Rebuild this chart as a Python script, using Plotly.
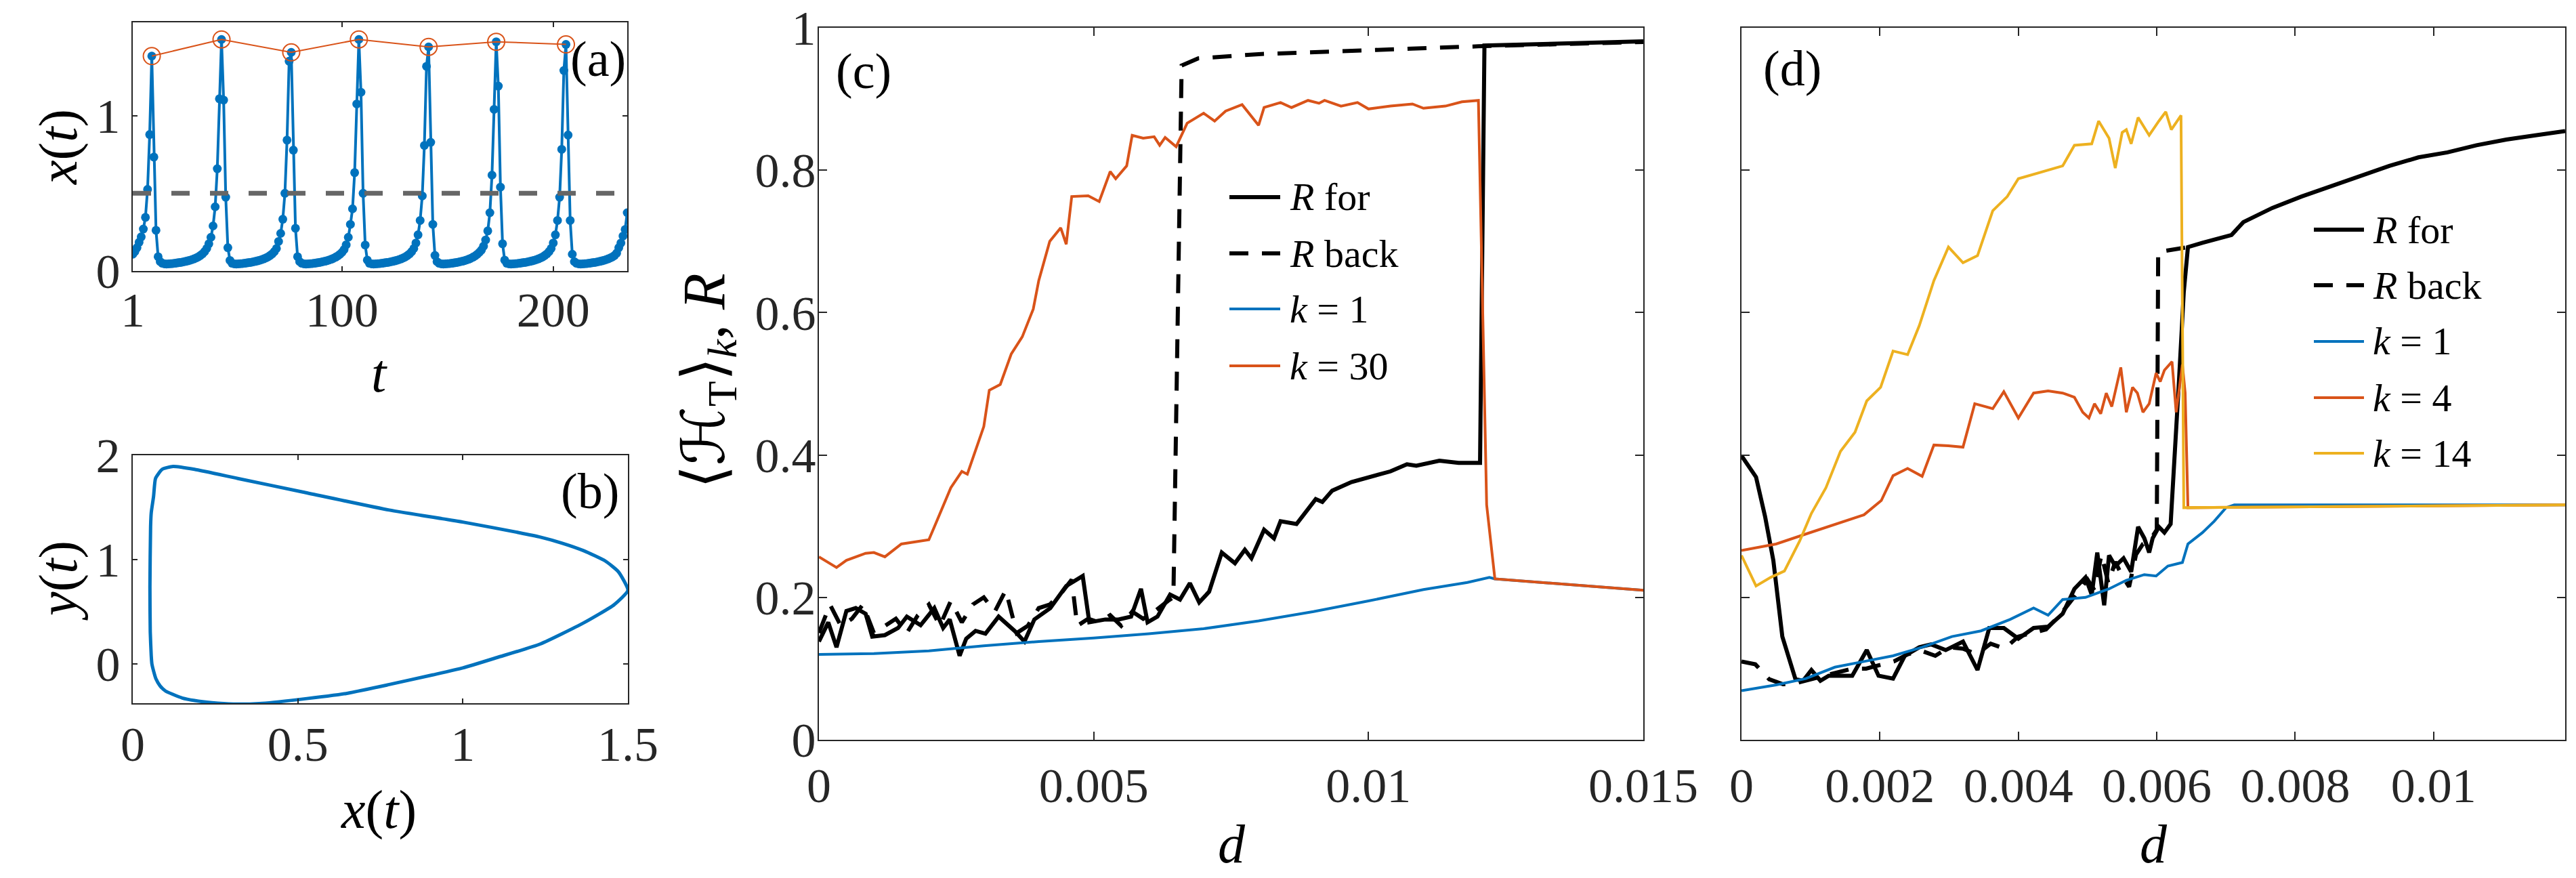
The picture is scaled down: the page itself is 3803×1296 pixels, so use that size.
import plotly.graph_objects as go

# ---------------- data ----------------
# (a) time series x(t), sampled at t = 1..235
x_series = [
    0.108, 0.125, 0.15, 0.185, 0.22, 0.27, 0.345, 0.525, 0.878,
    1.383,
    0.733, 0.262, 0.092, 0.06,
    0.05, 0.046, 0.045, 0.046, 0.047, 0.048, 0.05, 0.052, 0.054, 0.056, 0.059, 0.062,
    0.065, 0.069, 0.073, 0.078, 0.084, 0.091, 0.1, 0.11, 0.125, 0.145, 0.175,
    0.217, 0.29, 0.413, 0.658, 1.108,
    1.49,
    1.1, 0.475, 0.15, 0.068,
    0.05, 0.046, 0.045, 0.046, 0.047, 0.048, 0.05, 0.052, 0.054, 0.056, 0.059, 0.062,
    0.065, 0.069, 0.073, 0.078, 0.084, 0.091, 0.1, 0.11, 0.125, 0.145, 0.19,
    0.242, 0.333, 0.5, 0.842, 1.35,
    1.407,
    0.778, 0.275, 0.092, 0.06,
    0.05, 0.046, 0.045, 0.046, 0.047, 0.048, 0.05, 0.052, 0.054, 0.057, 0.06,
    0.063, 0.067, 0.071, 0.076, 0.082, 0.089, 0.097, 0.107, 0.12, 0.138, 0.168,
    0.217, 0.3, 0.4, 0.633, 1.075,
    1.49,
    1.15, 0.5, 0.167, 0.07,
    0.05, 0.046, 0.045, 0.046, 0.047, 0.048, 0.05, 0.052, 0.054, 0.056, 0.059, 0.062,
    0.065, 0.069, 0.073, 0.078, 0.084, 0.091, 0.1, 0.11, 0.125, 0.145, 0.18,
    0.233, 0.325, 0.483, 0.808, 1.317,
    1.442,
    0.828, 0.3, 0.1, 0.06,
    0.05, 0.046, 0.045, 0.046, 0.047, 0.048, 0.05, 0.052, 0.054, 0.057, 0.06,
    0.063, 0.067, 0.071, 0.076, 0.082, 0.089, 0.097, 0.107, 0.12, 0.135, 0.16,
    0.2, 0.258, 0.375, 0.617, 1.04,
    1.475,
    1.19, 0.54, 0.175, 0.07,
    0.05, 0.046, 0.045, 0.046, 0.047, 0.048, 0.05, 0.052, 0.054, 0.056, 0.059, 0.062,
    0.065, 0.069, 0.073, 0.078, 0.084, 0.091, 0.1, 0.11, 0.125, 0.145, 0.18,
    0.233, 0.325, 0.475, 0.783, 1.29,
    1.458,
    0.875, 0.325, 0.108, 0.06,
    0.05, 0.046, 0.045, 0.046, 0.047, 0.048, 0.05, 0.052, 0.054, 0.056, 0.059, 0.062,
    0.065, 0.069, 0.073, 0.078, 0.084, 0.091, 0.1, 0.115, 0.15, 0.18, 0.225, 0.267, 0.375,
]
t_series = list(range(1, len(x_series) + 1))
peak_t = [10, 43, 76, 108, 141, 173, 206]
peak_x = [1.383, 1.49, 1.407, 1.49, 1.442, 1.475, 1.458]
threshold_t = [1, 235]
threshold_x = [0.5, 0.5]

# (b) limit cycle in the (x, y) plane
cycle_x = [0.122, 0.187, 0.318, 0.515, 0.777, 1.0, 1.17, 1.235, 1.301, 1.366, 1.432, 1.471, 1.5,
           1.458, 1.366, 1.235, 1.104, 1.0, 0.908, 0.777, 0.646, 0.502, 0.384, 0.305, 0.24,
           0.187, 0.15, 0.122, 0.1, 0.083, 0.07, 0.063, 0.058, 0.056, 0.053, 0.052, 0.054,
           0.056, 0.063, 0.069, 0.089, 0.122]
cycle_y = [1.893, 1.865, 1.778, 1.648, 1.475, 1.36, 1.259, 1.216, 1.158, 1.086, 0.986, 0.885, 0.706,
           0.568, 0.395, 0.193, 0.063, -0.037, -0.104, -0.196, -0.282, -0.34, -0.378, -0.383, -0.37,
           -0.349, -0.325, -0.291, -0.26, -0.21, -0.14, -0.066, 0.0, 0.078, 0.308, 0.74, 1.317,
           1.45, 1.605, 1.778, 1.865, 1.893]

# (c) forward / backward order parameter and heterogeneity
c_rfor_d = [0, 0.00017, 0.00032, 0.0005, 0.00067, 0.00085, 0.00097, 0.0012, 0.00144, 0.0016,
            0.00185, 0.0021, 0.00226, 0.00238, 0.00256, 0.00268, 0.00285, 0.00303, 0.00327,
            0.00356, 0.00374, 0.00392, 0.00421, 0.0045, 0.0048, 0.00492, 0.00521, 0.00545,
            0.00568, 0.00586, 0.00598, 0.00616, 0.00639, 0.00657, 0.00675, 0.00692, 0.0071,
            0.00733, 0.00757, 0.00775, 0.00787, 0.0081, 0.00828, 0.0084, 0.00869, 0.00904,
            0.00916, 0.00934, 0.00969, 0.01005, 0.0104, 0.0107, 0.01087, 0.01129, 0.01164,
            0.01203, 0.01211, 0.015]
c_rfor_v = [0.138, 0.165, 0.13, 0.181, 0.185, 0.177, 0.145, 0.147, 0.157, 0.173,
            0.161, 0.185, 0.157, 0.169, 0.118, 0.142, 0.153, 0.149, 0.173,
            0.153, 0.138, 0.169, 0.185, 0.216, 0.23, 0.165, 0.169, 0.169,
            0.173, 0.212, 0.165, 0.173, 0.204, 0.197, 0.22, 0.193, 0.208,
            0.263, 0.248, 0.267, 0.255, 0.295, 0.283, 0.307, 0.303, 0.338,
            0.334, 0.35, 0.362, 0.37, 0.377, 0.387, 0.385, 0.392, 0.389,
            0.389, 0.975, 0.981]
c_rback_d = [0, 0.0002, 0.0004, 0.0006, 0.0008, 0.001, 0.0012, 0.0014, 0.0016, 0.0018, 0.002,
             0.0022, 0.0024, 0.0026, 0.0028, 0.003, 0.0032, 0.0034, 0.0036, 0.0038, 0.004,
             0.0042, 0.0044, 0.0046, 0.0047, 0.0049, 0.0051, 0.0053, 0.0055, 0.0057, 0.0059,
             0.0061, 0.00635, 0.00645, 0.0066, 0.0069, 0.008, 0.01, 0.012, 0.015]
c_rback_v = [0.15, 0.19, 0.16, 0.17, 0.19, 0.15, 0.16, 0.17, 0.15, 0.175, 0.19,
             0.16, 0.195, 0.165, 0.19, 0.2, 0.18, 0.21, 0.15, 0.16, 0.185,
             0.19, 0.205, 0.225, 0.16, 0.17, 0.165, 0.175, 0.16, 0.18, 0.17,
             0.18, 0.195, 0.2, 0.947, 0.957, 0.963, 0.969, 0.974, 0.98]
c_k1_d = [0, 0.001, 0.002, 0.003, 0.004, 0.005, 0.006, 0.007, 0.008, 0.009, 0.01, 0.011,
          0.0118, 0.0122, 0.0123, 0.015]
c_k1_v = [0.12, 0.121, 0.125, 0.132, 0.138, 0.143, 0.149, 0.156, 0.167, 0.18, 0.195, 0.211,
          0.221, 0.228, 0.226, 0.21]
c_k30_d = [0, 0.00032, 0.0005, 0.00085, 0.001, 0.0012, 0.0015, 0.002, 0.0021, 0.0024, 0.0026,
           0.0027, 0.003, 0.0031, 0.0033, 0.0035, 0.0037, 0.0039, 0.004, 0.0042, 0.0044,
           0.0045, 0.0046, 0.0049, 0.0051, 0.0053, 0.0054, 0.0056, 0.0057, 0.0059, 0.0061,
           0.0062, 0.0063, 0.0065, 0.0067, 0.007, 0.0072, 0.0074, 0.0077, 0.008, 0.0081,
           0.0084, 0.0086, 0.0089, 0.0091, 0.0092, 0.0095, 0.0098, 0.01, 0.0104, 0.0108,
           0.011, 0.0114, 0.0117, 0.012, 0.01215, 0.0123, 0.015]
c_k30_v = [0.257, 0.242, 0.252, 0.262, 0.263, 0.257, 0.275, 0.281, 0.299, 0.354, 0.377,
           0.373, 0.44, 0.491, 0.499, 0.542, 0.566, 0.605, 0.645, 0.70, 0.719,
           0.696, 0.763, 0.764, 0.756, 0.798, 0.788, 0.806, 0.849, 0.845, 0.847,
           0.835, 0.846, 0.833, 0.866, 0.88, 0.869, 0.883, 0.892, 0.863, 0.888,
           0.895, 0.888, 0.898, 0.894, 0.898, 0.89, 0.895, 0.886, 0.89, 0.893,
           0.887, 0.89, 0.896, 0.898, 0.33, 0.226, 0.21]

# (d)
d_rfor_d = [0, 0.00021, 0.00034, 0.00046, 0.00059, 0.00069, 0.00078, 0.00089, 0.00101, 0.00114,
            0.00126, 0.00143, 0.0016, 0.00181, 0.00198, 0.00219, 0.00236, 0.00257, 0.00274,
            0.00295, 0.0032, 0.00341, 0.00358, 0.00379, 0.004, 0.00422, 0.00443, 0.00464,
            0.00481, 0.00497, 0.00506, 0.00514, 0.00524, 0.00531, 0.0054, 0.00552, 0.00563,
            0.00573, 0.00582, 0.00589, 0.00594, 0.00603, 0.00611, 0.0062, 0.00626, 0.00632,
            0.00639, 0.00645, 0.00666, 0.00691, 0.00708, 0.00725, 0.00767, 0.00809, 0.00852,
            0.00894, 0.00936, 0.00978, 0.0102, 0.01062, 0.01105, 0.01147, 0.0119]
d_rfor_v = [0.399, 0.369, 0.314, 0.252, 0.145, 0.114, 0.085, 0.083, 0.098, 0.083,
            0.09, 0.09, 0.09, 0.126, 0.09, 0.086, 0.118, 0.13, 0.134,
            0.126, 0.138, 0.098, 0.157, 0.157, 0.142, 0.157, 0.159, 0.177,
            0.212, 0.228, 0.204, 0.263, 0.189, 0.259, 0.244, 0.255, 0.236,
            0.299, 0.283, 0.263, 0.283, 0.299, 0.291, 0.303, 0.393, 0.503,
            0.629, 0.692, 0.698, 0.704, 0.709, 0.727, 0.747, 0.763, 0.778,
            0.792, 0.806, 0.818, 0.825, 0.835, 0.843, 0.849, 0.855]
d_rback_d = [0, 0.0002, 0.0004, 0.0006, 0.0008, 0.001, 0.0012, 0.0014, 0.0016, 0.0018, 0.002,
             0.0022, 0.0024, 0.0026, 0.0028, 0.003, 0.0032, 0.0034, 0.0036, 0.0038, 0.004,
             0.0042, 0.0044, 0.0046, 0.0048, 0.005, 0.0051, 0.0052, 0.0053, 0.0054, 0.0055,
             0.0056, 0.0057, 0.0058, 0.0059, 0.006, 0.00602, 0.00645]
d_rback_v = [0.11, 0.106, 0.085, 0.078, 0.08, 0.085, 0.09, 0.095, 0.1, 0.1, 0.105,
             0.11, 0.12, 0.125, 0.118, 0.13, 0.128, 0.12, 0.135, 0.128, 0.145,
             0.15, 0.155, 0.175, 0.2, 0.225, 0.21, 0.26, 0.22, 0.25, 0.23,
             0.215, 0.26, 0.275, 0.28, 0.295, 0.685, 0.692]
d_k1_d = [0, 0.0005, 0.00093, 0.00135, 0.00177, 0.00219, 0.00261, 0.00304, 0.00346, 0.00388,
          0.00422, 0.00443, 0.00464, 0.00497, 0.00531, 0.00556, 0.00582, 0.00599, 0.00616,
          0.00637, 0.00645, 0.00666, 0.00683, 0.007, 0.00712, 0.0119]
d_k1_v = [0.069, 0.077, 0.086, 0.102, 0.11, 0.118, 0.13, 0.145, 0.153, 0.169,
          0.185, 0.175, 0.197, 0.2, 0.212, 0.224, 0.232, 0.23, 0.244,
          0.249, 0.275, 0.291, 0.307, 0.326, 0.33, 0.33]
d_k4_d = [0, 0.0005, 0.00093, 0.00135, 0.00177, 0.00202, 0.00219, 0.0024, 0.00261, 0.00278,
          0.00299, 0.0032, 0.00337, 0.00363, 0.00379, 0.004, 0.00422, 0.00443, 0.00464,
          0.00481, 0.00493, 0.00502, 0.0051, 0.00519, 0.00527, 0.00535, 0.00548, 0.00556,
          0.00565, 0.00572, 0.0058, 0.00589, 0.00599, 0.00605, 0.00611, 0.00622, 0.00628,
          0.00637, 0.00641, 0.00645, 0.0119]
d_k4_v = [0.266, 0.275, 0.289, 0.303, 0.316, 0.336, 0.371, 0.381, 0.37, 0.414,
          0.413, 0.411, 0.472, 0.465, 0.489, 0.452, 0.487, 0.49, 0.487,
          0.481, 0.46, 0.452, 0.472, 0.458, 0.487, 0.468, 0.523, 0.46,
          0.495, 0.487, 0.46, 0.472, 0.515, 0.503, 0.519, 0.531, 0.46,
          0.527, 0.487, 0.326, 0.33]
d_k14_d = [0, 0.00021, 0.00042, 0.00062, 0.00084, 0.00101, 0.00122, 0.00143, 0.00164, 0.00181,
           0.00201, 0.00219, 0.0024, 0.00257, 0.00278, 0.00299, 0.0032, 0.00341, 0.00363,
           0.00384, 0.004, 0.00422, 0.00443, 0.00464, 0.00481, 0.00506, 0.00516, 0.00531,
           0.0054, 0.0055, 0.00556, 0.00563, 0.00573, 0.00589, 0.00603, 0.00613, 0.00621,
           0.00635, 0.00639, 0.0119]
d_k14_v = [0.259, 0.216, 0.228, 0.237, 0.279, 0.318, 0.354, 0.405, 0.432, 0.476,
           0.495, 0.546, 0.541, 0.582, 0.645, 0.692, 0.67, 0.68, 0.743,
           0.763, 0.788, 0.794, 0.8, 0.806, 0.835, 0.837, 0.869, 0.845,
           0.803, 0.853, 0.857, 0.837, 0.874, 0.849, 0.869, 0.882, 0.857,
           0.877, 0.326, 0.33]

# tick labels
a_xticks = [1, 100, 200]
a_yticks = [0, 1]
b_xticks = [0, 0.5, 1, 1.5]
b_xticklabels = ["0", "0.5", "1", "1.5"]
b_yticks = [0, 1, 2]
c_xticks = [0, 0.005, 0.01, 0.015]
c_xticklabels = ["0", "0.005", "0.01", "0.015"]
cd_yticks = [0, 0.2, 0.4, 0.6, 0.8, 1]
cd_yticklabels = ["0", "0.2", "0.4", "0.6", "0.8", "1"]
d_xticks = [0, 0.002, 0.004, 0.006, 0.008, 0.01]
d_xticklabels = ["0", "0.002", "0.004", "0.006", "0.008", "0.01"]

# legend entries
c_legend_names = ["<i>R</i> for", "<i>R</i> back", "<i>k</i> = 1", "<i>k</i> = 30"]
d_legend_names = ["<i>R</i> for", "<i>R</i> back", "<i>k</i> = 1", "<i>k</i> = 4", "<i>k</i> = 14"]

# ---------------- style ----------------
W, H = 3803, 1296
BLUE, ORANGE, YELLOW = "#0072BD", "#D95319", "#EDB120"
AX = "#262626"
FONT = "Liberation Serif, Times New Roman, serif"
DASH = "28px,20px"


def fx(px):
    return px / W


def fy(py):
    return 1 - py / H


fig = go.Figure()

# (a)
fig.add_trace(go.Scatter(x=t_series, y=x_series, mode="lines+markers", xaxis="x", yaxis="y",
                         line=dict(color=BLUE, width=4), marker=dict(color=BLUE, size=13)))
fig.add_trace(go.Scatter(x=threshold_t, y=threshold_x, mode="lines", xaxis="x", yaxis="y",
                         line=dict(color="#666666", width=7, dash="27px,30px")))
fig.add_trace(go.Scatter(x=peak_t, y=peak_x, mode="lines+markers", xaxis="x", yaxis="y",
                         line=dict(color=ORANGE, width=2),
                         marker=dict(symbol="circle-open", size=25, color=ORANGE, line=dict(width=2))))
# (b)
fig.add_trace(go.Scatter(x=cycle_x, y=cycle_y, mode="lines", xaxis="x2", yaxis="y2",
                         line=dict(color=BLUE, width=5, shape="spline", smoothing=0.5)))

# (c)
c_styles = [dict(color="black", width=6), dict(color="black", width=6, dash=DASH),
            dict(color=BLUE, width=4), dict(color=ORANGE, width=4)]
c_data = [(c_rfor_d, c_rfor_v), (c_rback_d, c_rback_v), (c_k1_d, c_k1_v), (c_k30_d, c_k30_v)]
for (xs, ys), st, nm in zip(c_data, c_styles, c_legend_names):
    fig.add_trace(go.Scatter(x=xs, y=ys, mode="lines", xaxis="x3", yaxis="y3", name=nm, line=st))

# (d)
d_styles = [dict(color="black", width=6), dict(color="black", width=6, dash=DASH),
            dict(color=BLUE, width=4), dict(color=ORANGE, width=4), dict(color=YELLOW, width=4)]
d_data = [(d_rfor_d, d_rfor_v), (d_rback_d, d_rback_v), (d_k1_d, d_k1_v), (d_k4_d, d_k4_v),
          (d_k14_d, d_k14_v)]
for (xs, ys), st, nm in zip(d_data, d_styles, d_legend_names):
    fig.add_trace(go.Scatter(x=xs, y=ys, mode="lines", xaxis="x4", yaxis="y4", name=nm, line=st))

fig.update_traces(showlegend=False, hoverinfo="skip")


def axis(domain, rng, tickvals, ticktext=None, ticklen=12, anchor=None, labels=True, standoff=0):
    d = dict(domain=domain, range=rng, tickvals=tickvals, showline=True, linecolor=AX, linewidth=2,
             mirror="allticks", ticks="inside", ticklen=ticklen, tickwidth=2, tickcolor=AX,
             showgrid=False, zeroline=False, showticklabels=labels, ticklabelstandoff=standoff,
             automargin=False, tickfont=dict(family=FONT, size=72, color=AX), anchor=anchor)
    if ticktext is not None:
        d["ticktext"] = ticktext
    return d


cd_ydom = [fy(1092), fy(41)]
fig.update_layout(
    width=W, height=H, margin=dict(l=0, r=0, t=0, b=0, pad=0, autoexpand=False),
    paper_bgcolor="white", plot_bgcolor="white", showlegend=False,
    xaxis=axis([fx(196), fx(926)], [1, 235], a_xticks, ticklen=7, anchor="y", standoff=-6),
    yaxis=axis([fy(400), fy(33)], [0, 1.6], a_yticks, ticklen=7, anchor="x", standoff=2),
    xaxis2=axis([fx(196), fx(927)], [0, 1.5], b_xticks, b_xticklabels, ticklen=7, anchor="y2", standoff=-3),
    yaxis2=axis([fy(1038), fy(672)], [-0.375, 2], b_yticks, ticklen=7, anchor="x2", standoff=2),
    xaxis3=axis([fx(1209), fx(2426)], [0, 0.015], c_xticks, c_xticklabels, anchor="y3", standoff=4),
    yaxis3=axis(cd_ydom, [0, 1], cd_yticks, cd_yticklabels, anchor="x3", standoff=-12),
    xaxis4=axis([fx(2571), fx(3787)], [0, 0.0119], d_xticks, d_xticklabels, anchor="y4", standoff=4),
    yaxis4=axis(cd_ydom, [0, 1], cd_yticks, cd_yticklabels, anchor="x4", labels=False),
)

ann = []
shapes = []


def label(text, px, py, size=74, angle=0, xanchor="center"):
    ann.append(dict(text=text, x=fx(px), y=fy(py), xref="paper", yref="paper", showarrow=False,
                    xanchor=xanchor, yanchor="middle", textangle=angle,
                    font=dict(family=FONT, size=size, color="black")))


# axis titles and panel tags
label("<i>x</i>(<i>t</i>)", 86, 217, size=80, angle=-90)
label("<i>t</i>", 560, 551, size=80)
label("<i>y</i>(<i>t</i>)", 86, 857, size=80, angle=-90)
label("<i>x</i>(<i>t</i>)", 559, 1195, size=80)
label("⟨ℋ<sub>T</sub>⟩<sub><i>k</i></sub>, <i>R</i>", 1045, 562, size=88, angle=-90)
label("<i>d</i>", 1818, 1246, size=80)
label("<i>d</i>", 3179, 1246, size=80)
label("(a)", 883, 87)
label("(b)", 871, 725)
label("(c)", 1275, 105)
label("(d)", 2646, 101)


# legends (key line + text), placed like the reference legends
def legend(names, styles, x_line0, x_line1, x_text, rows):
    for nm, st, ry in zip(names, styles, rows):
        shapes.append(dict(type="line", xref="paper", yref="paper", x0=fx(x_line0), x1=fx(x_line1),
                           y0=fy(ry), y1=fy(ry), line=st))
        label(nm, x_text, ry, size=58, xanchor="left")


legend(c_legend_names, c_styles, 1815, 1890, 1902, [291, 374, 456, 540])
legend(d_legend_names, d_styles, 3416, 3490, 3501, [339, 421, 504, 587, 669])

fig.update_layout(annotations=ann, shapes=shapes)

fig.write_html("out.html", config={"displayModeBar": False, "staticPlot": True},
               post_script="document.body.style.margin='0';document.body.style.overflow='hidden';")
